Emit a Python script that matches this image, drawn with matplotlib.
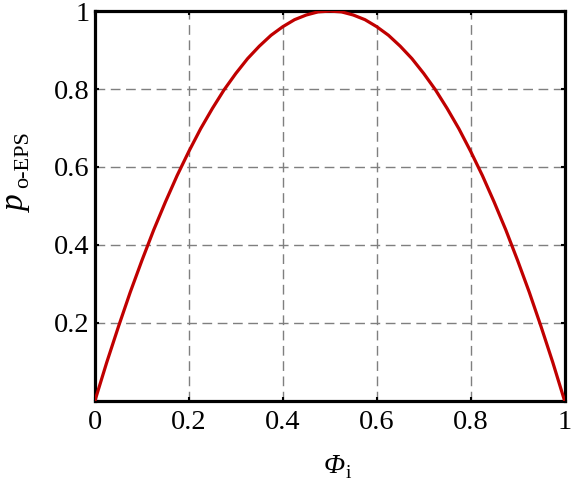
import matplotlib
matplotlib.use('Agg')
import matplotlib.pyplot as plt

plt.rcParams['font.family'] = ['Liberation Serif', 'DejaVu Serif']

# values
phi_i = [0.0, 0.025, 0.05, 0.075, 0.1, 0.125, 0.15, 0.175, 0.2, 0.225,
         0.25, 0.275, 0.3, 0.325, 0.35, 0.375, 0.4, 0.425, 0.45, 0.475,
         0.5, 0.525, 0.55, 0.575, 0.6, 0.625, 0.65, 0.675, 0.7, 0.725,
         0.75, 0.775, 0.8, 0.825, 0.85, 0.875, 0.9, 0.925, 0.95, 0.975, 1.0]
p_oeps = [0.0, 0.098, 0.19, 0.278, 0.36, 0.438, 0.51, 0.578, 0.64, 0.698,
          0.75, 0.798, 0.84, 0.878, 0.91, 0.938, 0.96, 0.978, 0.99, 0.998,
          1.0, 0.998, 0.99, 0.978, 0.96, 0.938, 0.91, 0.878, 0.84, 0.798,
          0.75, 0.698, 0.64, 0.578, 0.51, 0.438, 0.36, 0.278, 0.19, 0.098, 0.0]

xticks = [0, 0.2, 0.4, 0.6, 0.8, 1]
xtick_labels = ['0', '0.2', '0.4', '0.6', '0.8', '1']
yticks = [0, 0.2, 0.4, 0.6, 0.8, 1]
ytick_labels = ['', '0.2', '0.4', '0.6', '0.8', '1']

W, H = 582, 487
fig = plt.figure(figsize=(W / 100, H / 100), dpi=100)
ax = fig.add_axes([0.1632, 0.1774, 0.8068, 0.7998])

ax.plot(phi_i, p_oeps, color='#c00000', lw=2.3, zorder=3)

ax.set_xlim(0, 1)
ax.set_ylim(0, 1)
ax.set_xticks(xticks)
ax.set_xticklabels(xtick_labels)
ax.set_yticks(yticks)
ax.set_yticklabels(ytick_labels)
ax.grid(True, color='#7f7f7f', lw=1.0, linestyle=(0, (7, 4)))
ax.tick_params(direction='in', length=3, width=1.5, labelsize=20.5,
               top=True, right=True, pad=4)
ax.tick_params(axis='x', pad=7)
for s in ax.spines.values():
    s.set_linewidth(2.3)

# axis labels: italic symbol plus small upright subscript, placed in pixels
def px(x, y):
    return x / W, 1 - y / H

fig.text(*px(334, 473), '\u03a6', fontsize=20, fontstyle='italic',
         ha='center', va='baseline')
fig.text(*px(346, 478), 'i', fontsize=14, ha='left', va='baseline')

fig.text(*px(25, 204), 'p', fontsize=24, fontstyle='italic', rotation=90,
         rotation_mode='anchor', ha='center', va='baseline')
fig.text(*px(28, 188), 'o-EPS', fontsize=16, rotation=90,
         rotation_mode='anchor', ha='left', va='baseline')

fig.savefig('out.png', dpi=100)
